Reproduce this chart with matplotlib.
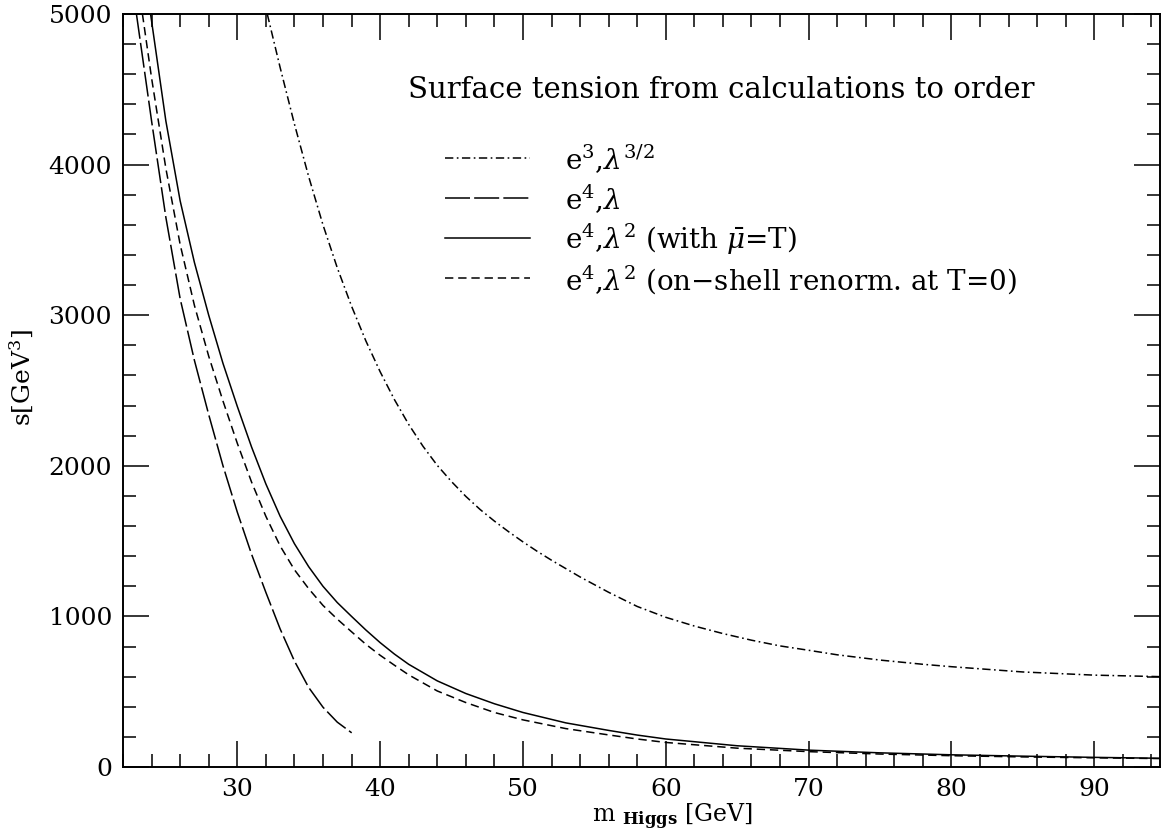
"""Surface tension vs Higgs mass, recreated with matplotlib."""

import matplotlib

matplotlib.use("Agg")
from matplotlib import pyplot as plt
from matplotlib.ticker import MultipleLocator

plt.rcParams["font.family"] = ["DejaVu Serif"]
plt.rcParams["mathtext.fontset"] = "dejavuserif"
plt.rcParams["lines.scale_dashes"] = False

# values (x = m_Higgs in GeV, y = s in GeV^3)
dashdot_x = [32.1, 33, 34, 35, 36, 37, 38, 39, 40, 41, 42, 43, 44, 45, 46, 47, 48,
             49, 50, 51, 52, 54, 56, 58, 60, 62, 64, 66, 68, 70, 72, 75, 78, 80, 85,
             90, 94.6]
dashdot_y = [5000, 4645, 4270, 3920, 3600, 3315, 3060, 2830, 2625, 2440, 2275, 2130,
             2003, 1895, 1797, 1710, 1633, 1562, 1495, 1432, 1373, 1262, 1160, 1066,
             994, 936, 886, 842, 804, 775, 745, 710, 682, 666, 631, 610, 600]

longdash_x = [22.94, 23, 24, 25, 26, 27, 28, 29, 30, 31, 32, 33, 34, 35, 36, 37, 38.01]
longdash_y = [5000, 4960, 4290, 3650, 3110, 2700, 2340, 2000, 1693, 1413, 1160, 917,
              704, 528, 397, 298, 227]

solid_x = [23.93, 25, 26, 27, 28, 29, 30, 31, 32, 33, 34, 35, 36, 37, 38, 39, 40, 41,
           42, 44, 46, 48, 50, 53, 56, 58, 60, 65, 70, 75, 80, 85, 90, 94.6]
solid_y = [5000, 4290, 3760, 3350, 3000, 2680, 2395, 2125, 1880, 1665, 1483, 1330,
           1200, 1092, 1000, 910, 826, 750, 682, 572, 488, 420, 362, 293, 243, 212,
           186, 141, 112, 94, 81, 72, 64, 58]

shortdash_x = [23.36, 24, 25, 26, 27, 28, 29, 30, 31, 32, 33, 34, 35, 36, 37, 38, 39,
               40, 41, 42, 44, 46, 48, 50, 53, 56, 58, 60, 65, 70, 75, 80, 85, 90,
               94.6]
shortdash_y = [5000, 4575, 3975, 3470, 3065, 2728, 2430, 2150, 1892, 1665, 1468, 1310,
               1184, 1073, 982, 898, 815, 742, 676, 612, 505, 428, 362, 313, 255, 213,
               186, 163, 125, 102, 86, 75, 67, 61, 56]

legend_title = "Surface tension from calculations to order"
legend_labels = [
    r"e$^{3}$,$\lambda^{3/2}$",
    r"e$^{4}$,$\lambda$",
    r"e$^{4}$,$\lambda^{2}$ (with $\bar{\mu}$=T)",
    r"e$^{4}$,$\lambda^{2}$ (on$-$shell renorm. at T=0)",
]

LONG = (0, (18, 3))
SHORT = (0, (6, 3.5))
DASHDOT = (0, (6, 2.5, 1.2, 2.5))
styles = [DASHDOT, LONG, "-", SHORT]

figure = plt.figure(figsize=(11.61, 8.32), dpi=100)
axis = figure.add_axes([123 / 1161, 65 / 832, 1037 / 1161, 753 / 832])

series = [
    (dashdot_x, dashdot_y),
    (longdash_x, longdash_y),
    (solid_x, solid_y),
    (shortdash_x, shortdash_y),
]
for (xs, ys), style in zip(series, styles):
    axis.plot(xs, ys, color="black", linewidth=1.1, linestyle=style)

axis.set_xlim(22, 94.6)
axis.set_ylim(0, 5000)
axis.xaxis.set_major_locator(MultipleLocator(10))
axis.xaxis.set_minor_locator(MultipleLocator(2))
axis.yaxis.set_major_locator(MultipleLocator(1000))
axis.yaxis.set_minor_locator(MultipleLocator(200))
axis.tick_params(which="both", direction="in", top=True, right=True, width=1.1,
                 labelsize=18, pad=8)
axis.tick_params(which="major", length=18.5)
axis.tick_params(which="minor", length=9.4)
for spine in axis.spines.values():
    spine.set_linewidth(1.4)

axis.set_xlabel(r"m $_{\mathbf{Higgs}}$ [GeV]", fontsize=17, va="top")
axis.xaxis.set_label_coords(0.530, -0.0465)
axis.set_ylabel(r"s[GeV$^{3}$]", fontsize=18, va="center")
axis.yaxis.set_label_coords(-0.0974, 0.517)

# legend drawn by hand, as in the original
axis.text(0.2748, 0.899, legend_title, transform=axis.transAxes, fontsize=21,
          va="center", ha="left")
rows = [0.8088, 0.7556, 0.7025, 0.6494]
for row, style, label in zip(rows, styles, legend_labels):
    axis.plot([0.3105, 0.3925], [row, row], transform=axis.transAxes,
              color="black", linewidth=1.1, linestyle=style)
    axis.text(0.426, row - 0.002, label, transform=axis.transAxes, fontsize=20,
              va="center", ha="left")

figure.savefig("out.png", dpi=100)
